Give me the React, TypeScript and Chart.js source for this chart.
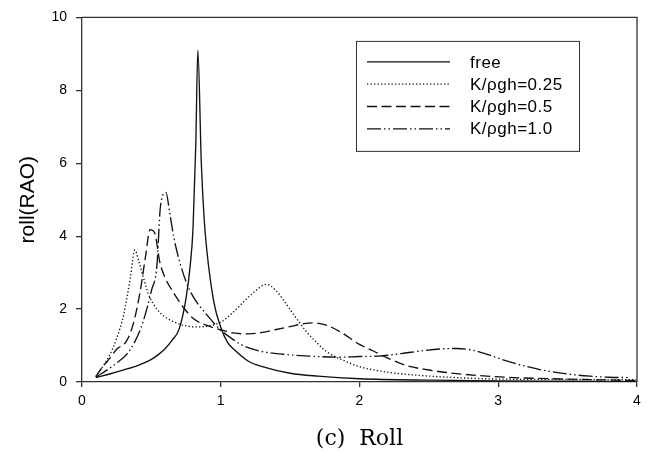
import React, { useEffect, useRef } from "react";
import { Chart, registerables } from "chart.js";

Chart.register(...registerables);

// ---- data ----
const seriesLabels = ["free", "K/ρgh=0.25", "K/ρgh=0.5", "K/ρgh=1.0"];

const freeX = [0.1, 0.2, 0.3, 0.4, 0.5, 0.55, 0.6, 0.65, 0.7, 0.75, 0.78, 0.8, 0.82, 0.835, 0.86, 0.88, 0.9, 0.95, 1.0, 1.05, 1.1, 1.2, 1.3, 1.5, 1.7, 2.0, 2.5, 3.0, 3.5, 4.0];
const freeY = [0.12, 0.22, 0.33, 0.45, 0.62, 0.75, 0.92, 1.15, 1.45, 2.3, 3.2, 4.2, 6.5, 9.1, 6.0, 4.5, 3.6, 2.2, 1.5, 1.08, 0.88, 0.57, 0.42, 0.24, 0.16, 0.09, 0.05, 0.03, 0.02, 0.01];

const k025X = [0.1, 0.2, 0.25, 0.3, 0.35, 0.38, 0.41, 0.44, 0.48, 0.54, 0.6, 0.68, 0.75, 0.82, 0.9, 1.0, 1.08, 1.16, 1.25, 1.33, 1.4, 1.47, 1.55, 1.62, 1.7, 1.76, 1.88, 2.0, 2.2, 2.4, 2.7, 3.0, 3.5, 4.0];
const k025Y = [0.15, 0.74, 1.2, 1.84, 2.9, 3.62, 3.3, 2.9, 2.4, 2.0, 1.78, 1.62, 1.54, 1.51, 1.53, 1.64, 1.88, 2.18, 2.5, 2.68, 2.5, 2.15, 1.72, 1.37, 1.05, 0.84, 0.6, 0.42, 0.27, 0.19, 0.12, 0.08, 0.07, 0.06];

const k05X = [0.1, 0.15, 0.2, 0.25, 0.32, 0.37, 0.42, 0.46, 0.49, 0.525, 0.56, 0.6, 0.66, 0.73, 0.8, 0.9, 1.0, 1.1, 1.2, 1.3, 1.4, 1.5, 1.6, 1.67, 1.76, 1.86, 2.0, 2.1, 2.2, 2.34, 2.5, 2.7, 3.06, 3.5, 4.0];
const k05Y = [0.15, 0.42, 0.65, 0.9, 1.12, 1.6, 2.5, 3.5, 4.18, 4.08, 3.3, 2.85, 2.45, 2.05, 1.75, 1.55, 1.43, 1.34, 1.32, 1.36, 1.44, 1.52, 1.6, 1.62, 1.56, 1.38, 1.03, 0.85, 0.66, 0.45, 0.33, 0.23, 0.13, 0.08, 0.04];

const k10X = [0.1, 0.2, 0.26, 0.32, 0.38, 0.44, 0.5, 0.54, 0.565, 0.605, 0.63, 0.66, 0.7, 0.75, 0.8, 0.9, 1.0, 1.04, 1.15, 1.28, 1.45, 1.64, 1.86, 2.0, 2.14, 2.3, 2.46, 2.6, 2.7, 2.82, 2.92, 3.01, 3.15, 3.3, 3.5, 3.66, 3.8, 3.95];
const k10Y = [0.13, 0.38, 0.55, 0.75, 1.1, 1.65, 2.5, 3.2, 4.8, 5.2, 4.7, 4.0, 3.35, 2.75, 2.35, 1.84, 1.42, 1.3, 1.02, 0.85, 0.76, 0.71, 0.68, 0.7, 0.71, 0.78, 0.86, 0.91, 0.92, 0.87, 0.76, 0.64, 0.48, 0.34, 0.22, 0.16, 0.13, 0.12];

const seriesX = [freeX, k025X, k05X, k10X];
const seriesY = [freeY, k025Y, k05Y, k10Y];
const seriesDash: number[][] = [[], [1.3, 2.2], [10, 4.5], [14, 3, 1.5, 3, 1.5, 3]];

const xMin = 0, xMax = 4, xStep = 1;
const yMin = 0, yMax = 10, yStep = 2;
const xTitle = "(c)  Roll";
const yTitle = "roll(RAO)";

const INK = "#111";
const AXIS = "#333";

const framePlugin = {
  id: "frameBox",
  afterDraw(chart: any) {
    const { ctx, chartArea } = chart;
    const { left, top, right, bottom } = chartArea;
    ctx.save();
    ctx.strokeStyle = AXIS;
    ctx.lineWidth = 1.3;
    ctx.beginPath();
    ctx.moveTo(left, top);
    ctx.lineTo(right, top);
    ctx.lineTo(right, bottom);
    ctx.stroke();
    ctx.restore();
  },
};

const legendPlugin = {
  id: "boxLegend",
  afterDraw(chart: any) {
    const { ctx, chartArea } = chart;
    const L = chartArea.left + 274;
    const T = chartArea.top + 23.5;
    const W = 223;
    const H = 110;
    ctx.save();
    ctx.fillStyle = "#fff";
    ctx.fillRect(L, T, W, H);
    ctx.strokeStyle = AXIS;
    ctx.lineWidth = 1;
    ctx.strokeRect(L + 0.5, T + 0.5, W, H);
    ctx.font = '17px "Liberation Sans", Arial, sans-serif';
    try { (ctx as any).letterSpacing = "0.5px"; } catch (e) {}
    ctx.textBaseline = "middle";
    ctx.textAlign = "left";
    ctx.fillStyle = "#000";
    chart.data.datasets.forEach((ds: any, i: number) => {
      const y = T + 21 + i * 22.3;
      ctx.beginPath();
      ctx.setLineDash(ds.borderDash || []);
      ctx.lineWidth = 1.3;
      ctx.strokeStyle = INK;
      ctx.moveTo(L + 11, y);
      ctx.lineTo(L + 94, y);
      ctx.stroke();
      ctx.setLineDash([]);
      ctx.fillText(ds.label, L + 114, y + 1);
    });
    ctx.restore();
  },
};

export default function App() {
  const ref = useRef<HTMLCanvasElement | null>(null);
  useEffect(() => {
    if (!ref.current) return;
    const datasets = seriesLabels.map((label, i) => ({
      label,
      data: seriesX[i].map((x, j) => ({ x, y: seriesY[i][j] })),
      borderColor: INK,
      borderWidth: 1.35,
      borderDash: seriesDash[i],
      pointRadius: 0,
      fill: false,
      cubicInterpolationMode: "monotone" as const,
    }));
    const tickFont = { family: '"Liberation Sans", Arial, sans-serif', size: 14 };
    const chart = new Chart(ref.current, {
      type: "line",
      data: { datasets },
      options: {
        animation: false,
        responsive: false,
        layout: { padding: { top: 10, right: 16, left: 0, bottom: 0 } },
        plugins: { legend: { display: false }, tooltip: { enabled: false } },
        scales: {
          x: {
            type: "linear",
            min: xMin,
            max: xMax,
            ticks: { stepSize: xStep, font: tickFont, color: "#000", padding: 6, maxRotation: 0 },
            grid: { display: true, drawOnChartArea: false, drawTicks: true, tickLength: 5, tickColor: AXIS, lineWidth: 1.3 },
            border: { display: true, color: AXIS, width: 1.3 },
            title: {
              display: true,
              text: xTitle,
              color: "#000",
              font: { family: '"DejaVu Serif", serif', size: 22 },
              padding: { top: 0, bottom: 2 },
            },
            afterFit(scale: any) { scale.height = 72; },
          },
          y: {
            type: "linear",
            min: yMin,
            max: yMax,
            ticks: { stepSize: yStep, font: tickFont, color: "#000", padding: 9 },
            grid: { display: true, drawOnChartArea: false, drawTicks: true, tickLength: 6, tickColor: AXIS, lineWidth: 1.3 },
            border: { display: true, color: AXIS, width: 1.3 },
            title: {
              display: true,
              text: yTitle,
              color: "#000",
              font: { family: '"Liberation Sans", Arial, sans-serif', size: 21 },
              padding: { top: 16, bottom: 0 },
            },
            afterFit(scale: any) { scale.width = 82; },
          },
        },
      },
      plugins: [framePlugin, legendPlugin],
    });
    return () => chart.destroy();
  }, []);
  return (
    <div style={{ position: "fixed", left: 0, top: 0, width: 653, height: 454, background: "#fff" }}>
      <canvas ref={ref} width={653} height={454} style={{ display: "block", width: 653, height: 454 }} />
    </div>
  );
}
